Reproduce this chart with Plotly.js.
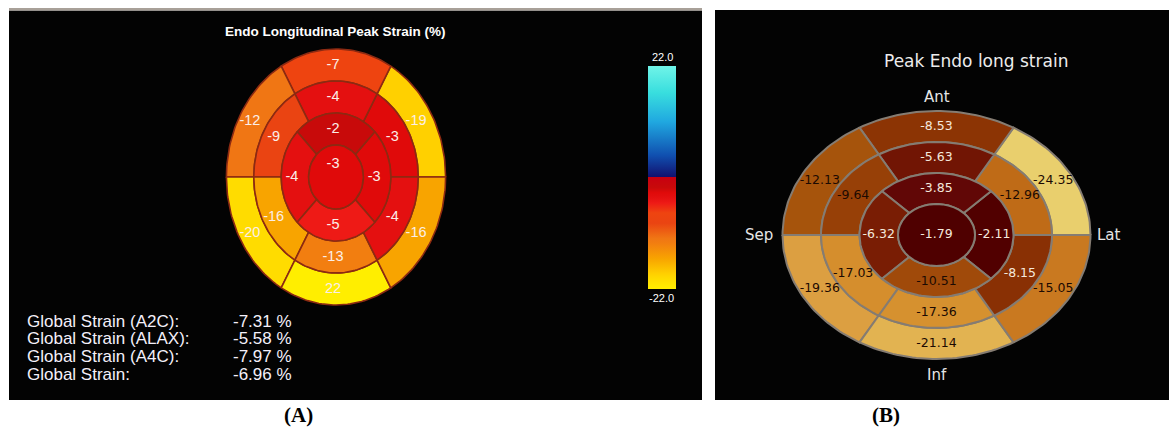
<!DOCTYPE html>
<html><head><meta charset="utf-8">
<script src="https://cdn.plot.ly/plotly-3.0.1.min.js"></script>
<style>html,body{margin:0;padding:0;background:#fff;}#chart{width:1169px;height:431px;}</style>
</head><body><div id="chart"></div>
<script>
// ---------------- Panel A data ----------------
// ring segments listed counter-clockwise from 0 deg: upper-right, top, upper-left, lower-left, bottom, lower-right
const aBasal = [-19, -7, -12, -20, -22, -16];
const aBasalText = ['-19', '-7', '-12', '-20', '22', '-16'];
const aMid = [-3, -4, -9, -16, -13, -4];
// apical: right, top, left, bottom
const aApical = [-3, -2, -4, -5];
const aApex = [-3];
const aTitle = 'Endo Longitudinal Peak Strain (%)';
const aScaleLabels = ['22.0', '-22.0'];
const globalLabels = ['Global Strain (A2C):', 'Global Strain (ALAX):', 'Global Strain (A4C):', 'Global Strain:'];
const globalValues = [-7.31, -5.58, -7.97, -6.96];

// ---------------- Panel B data ----------------
const bBasal = [-24.35, -8.53, -12.13, -19.36, -21.14, -15.05];
const bMid = [-12.96, -5.63, -9.64, -17.03, -17.36, -8.15];
const bApical = [-2.11, -3.85, -6.32, -10.51];
const bApex = [-1.79];
const bTitle = 'Peak Endo long strain';
const bWalls = ['Lat', 'Ant', 'Sep', 'Inf'];
const panelLabels = ['(A)', '(B)'];

// ---------------- colour scales ----------------
const aScale = [[0,'#ffee00'],[0.045,'#ffdc00'],[0.068,'#ffd000'],[0.136,'#f8a400'],[0.205,'#f27e10'],
  [0.227,'#f07614'],[0.295,'#ea4412'],[0.341,'#ee4410'],[0.386,'#ee1a16'],[0.409,'#e41010'],
  [0.432,'#e00a0a'],[0.4545,'#c80a0a'],[0.5,'#c80010'],[0.501,'#12106e'],[0.6,'#1050b0'],
  [0.75,'#20a8e0'],[0.88,'#38dede'],[1,'#70f4e8']];
const aMin = -22, aMax = 22;
const bScale = [[0,'#eccf70'],[0.03,'#e8cf6c'],[0.15,'#e2b452'],[0.23,'#dc9e40'],[0.31,'#d6902e'],
  [0.4,'#c97820'],[0.48,'#c06c18'],[0.515,'#a6540c'],[0.58,'#a04a0a'],[0.62,'#963e06'],
  [0.66,'#8c3404'],[0.75,'#781c04'],[0.78,'#701404'],[0.85,'#600606'],[0.92,'#500000'],[1,'#460000']];
const bMin = -25, bMax = 0;

function hex2rgb(h){ return [parseInt(h.substr(1,2),16), parseInt(h.substr(3,2),16), parseInt(h.substr(5,2),16)]; }
function colorAt(scale, vmin, vmax, v){
  let f = (v - vmin) / (vmax - vmin); f = Math.max(0, Math.min(1, f));
  for (let i = 1; i < scale.length; i++) {
    if (f <= scale[i][0]) {
      const f0 = scale[i-1][0], f1 = scale[i][0];
      const t = f1 > f0 ? (f - f0) / (f1 - f0) : 0;
      const c0 = hex2rgb(scale[i-1][1]), c1 = hex2rgb(scale[i][1]);
      return 'rgb(' + c0.map((c, k) => Math.round(c + (c1[k] - c) * t)).join(',') + ')';
    }
  }
  return scale[scale.length-1][1];
}

// ---------------- geometry ----------------
const geoA = {cx: 336, cy: 177, ux: 27.4, uy: 32, dx: -3, apexDy: -13};
const geoB = {cx: 936.5, cy: 235, ux: 38.5, uy: 31, dx: 0, apexDy: 0};

function ringSeg(g, rIn, rOut, a0, a1){
  const xs = [], ys = [], n = 40;
  for (let i = 0; i <= n; i++) {
    const t = (a0 + (a1 - a0) * i / n) * Math.PI / 180;
    xs.push(g.cx + rOut * g.ux * Math.cos(t)); ys.push(g.cy - rOut * g.uy * Math.sin(t));
  }
  if (rIn > 0) {
    for (let i = n; i >= 0; i--) {
      const t = (a0 + (a1 - a0) * i / n) * Math.PI / 180;
      xs.push(g.cx + rIn * g.ux * Math.cos(t)); ys.push(g.cy - rIn * g.uy * Math.sin(t));
    }
  }
  xs.push(xs[0]); ys.push(ys[0]);
  return {xs, ys};
}

const traces = [];
function addBullseye(g, rings, scale, vmin, vmax, border, bw, textOpts){
  const lx = [], ly = [], lt = [], lc = [];
  rings.forEach(r => {
    r.values.forEach((v, i) => {
      const a0 = r.start + i * r.step, a1 = a0 + r.step;
      const p = ringSeg(g, r.rIn, r.rOut, a0, a1);
      traces.push({type:'scatter', mode:'lines', x:p.xs, y:p.ys, fill:'toself',
        fillcolor: colorAt(scale, vmin, vmax, v), line:{color:border, width:bw},
        hoverinfo:'skip', showlegend:false});
      const am = (a0 + a1) / 2 * Math.PI / 180, rm = (r.rIn + r.rOut) / 2;
      if (r.rIn === 0) { lx.push(g.cx + g.dx); ly.push(g.cy + g.apexDy); }
      else { lx.push(g.cx + g.dx + rm * g.ux * Math.cos(am)); ly.push(g.cy - rm * g.uy * Math.sin(am)); }
      lt.push(r.text ? r.text[i] : String(v));
      lc.push(textOpts.colorFn(v));
    });
  });
  traces.push({type:'scatter', mode:'text', x:lx, y:ly, text:lt, textposition:'middle center',
    textfont:{family:textOpts.family, size:textOpts.size, color:lc}, hoverinfo:'skip', showlegend:false, cliponaxis:false});
}

addBullseye(geoA, [
  {values:aBasal, text:aBasalText, rIn:3, rOut:4, start:0, step:60},
  {values:aMid, rIn:2, rOut:3, start:0, step:60},
  {values:aApical, rIn:1, rOut:2, start:-45, step:90},
  {values:aApex, rIn:0, rOut:1, start:0, step:360}
], aScale, aMin, aMax, '#8c2a12', 1.6,
  {family:'Liberation Sans Narrow, Liberation Sans, Arial, sans-serif', size:14.5, colorFn: v => '#fbeee8'});

addBullseye(geoB, [
  {values:bBasal, rIn:3, rOut:4, start:0, step:60},
  {values:bMid, rIn:2, rOut:3, start:0, step:60},
  {values:bApical, rIn:1, rOut:2, start:-45, step:90},
  {values:bApex, rIn:0, rOut:1, start:0, step:360}
], bScale, bMin, bMax, '#857c72', 2,
  {family:'DejaVu Sans, Verdana, sans-serif', size:12.5, colorFn: v => v > -9 ? '#f4e8dc' : '#1c0a02'});

// colour bar for panel A
traces.push({type:'scatter', mode:'markers', x:[-50,-50], y:[-50,-50],
  marker:{color:[aMin, aMax], cmin:aMin, cmax:aMax, colorscale:aScale, showscale:true,
    colorbar:{x:648/1169, xanchor:'left', xref:'paper', y:1 - 177.5/431, yanchor:'middle', yref:'paper',
      len:223, lenmode:'pixels', thickness:28, thicknessmode:'pixels', outlinewidth:0,
      showticklabels:false, ticks:'', xpad:0, ypad:0, bgcolor:'rgba(0,0,0,0)'}},
  hoverinfo:'skip', showlegend:false});

// ---------------- annotations ----------------
const ann = [];
const fA = 'Liberation Sans, Arial, sans-serif';
ann.push({x:335, y:31, text:'<b>' + aTitle + '</b>', showarrow:false, font:{family:fA, size:13.5, color:'#ffffff'}});
ann.push({x:662, y:57, text:aScaleLabels[0], showarrow:false, font:{family:fA, size:11, color:'#ffffff'}});
ann.push({x:661, y:298, text:aScaleLabels[1], showarrow:false, font:{family:fA, size:11, color:'#ffffff'}});
const gRows = [321, 338, 356, 374];
globalLabels.forEach((l, i) => {
  ann.push({x:25, y:gRows[i], text:l, xanchor:'left', showarrow:false, font:{family:fA, size:17, color:'#f4f0fa'}});
  ann.push({x:231, y:gRows[i], text:globalValues[i].toFixed(2) + ' %', xanchor:'left', showarrow:false, font:{family:fA, size:17, color:'#f4f0fa'}});
});
const fB = 'DejaVu Sans, Verdana, sans-serif';
ann.push({x:976, y:61, text:bTitle, showarrow:false, font:{family:fB, size:17, color:'#ececec'}});
const outerRx = 4 * geoB.ux, outerRy = 4 * geoB.uy;
ann.push({x:geoB.cx + outerRx + 4, y:geoB.cy, text:bWalls[0], xanchor:'left', showarrow:false, font:{family:fB, size:15, color:'#e6e6e6'}});
ann.push({x:geoB.cx, y:geoB.cy - outerRy - 14, text:bWalls[1], showarrow:false, font:{family:fB, size:15, color:'#e6e6e6'}});
ann.push({x:geoB.cx - outerRx - 8, y:geoB.cy, text:bWalls[2], xanchor:'right', showarrow:false, font:{family:fB, size:15, color:'#e6e6e6'}});
ann.push({x:geoB.cx, y:geoB.cy + outerRy + 16, text:bWalls[3], showarrow:false, font:{family:fB, size:15, color:'#e6e6e6'}});
ann.push({x:298, y:415, text:'<b>' + panelLabels[0] + '</b>', showarrow:false, font:{family:'Liberation Serif, Times New Roman, serif', size:21, color:'#000'}});
ann.push({x:886, y:415, text:'<b>' + panelLabels[1] + '</b>', showarrow:false, font:{family:'Liberation Serif, Times New Roman, serif', size:21, color:'#000'}});

const shapes = [
  {type:'rect', layer:'below', x0:9, x1:702, y0:10.5, y1:400, fillcolor:'#030303', line:{width:0}},
  {type:'rect', layer:'below', x0:9, x1:702, y0:8, y1:10.5, fillcolor:'#a8a098', line:{width:0}},
  {type:'rect', layer:'below', x0:715, x1:1169, y0:10, y1:400, fillcolor:'#030303', line:{width:0}}
];

const layout = {
  width:1169, height:431, margin:{l:0, r:0, t:0, b:0, pad:0, autoexpand:false},
  paper_bgcolor:'#ffffff', plot_bgcolor:'rgba(0,0,0,0)',
  xaxis:{range:[0,1169], visible:false, fixedrange:true},
  yaxis:{range:[431,0], visible:false, fixedrange:true},
  showlegend:false, hovermode:false, shapes:shapes, annotations:ann
};
Plotly.newPlot('chart', traces, layout, {displayModeBar:false, staticPlot:true});
</script>
</body></html>
